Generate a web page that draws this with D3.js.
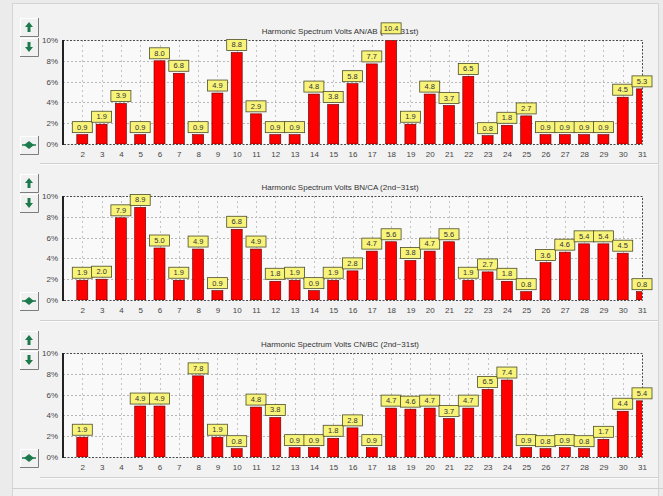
<!DOCTYPE html>
<html>
<head>
<meta charset="utf-8">
<script src="https://cdn.jsdelivr.net/npm/d3@7"></script>
<style>
  body { margin: 0; background: #ebebeb; }
  svg { display: block; }
</style>
</head>
<body>
<svg id="chart" width="663" height="496"></svg>
<script>
// Harmonic orders shown on the x axis
const orders = [2, 3, 4, 5, 6, 7, 8, 9, 10, 11, 12, 13, 14, 15, 16,
                17, 18, 19, 20, 21, 22, 23, 24, 25, 26, 27, 28, 29, 30, 31];

// Harmonic magnitude (% of fundamental) per phase; null = no bar
const anAb = [0.9, 1.9, 3.9, 0.9, 8.0, 6.8, 0.9, 4.9, 8.8, 2.9, 0.9, 0.9, 4.8, 3.8, 5.8,
              7.7, 10.4, 1.9, 4.8, 3.7, 6.5, 0.8, 1.8, 2.7, 0.9, 0.9, 0.9, 0.9, 4.5, 5.3];
const bnCa = [1.9, 2.0, 7.9, 8.9, 5.0, 1.9, 4.9, 0.9, 6.8, 4.9, 1.8, 1.9, 0.9, 1.9, 2.8,
              4.7, 5.6, 3.8, 4.7, 5.6, 1.9, 2.7, 1.8, 0.8, 3.6, 4.6, 5.4, 5.4, 4.5, 0.8];
const cnBc = [1.9, null, null, 4.9, 4.9, null, 7.8, 1.9, 0.8, 4.8, 3.8, 0.9, 0.9, 1.8, 2.8,
              0.9, 4.7, 4.6, 4.7, 3.7, 4.7, 6.5, 7.4, 0.9, 0.8, 0.9, 0.8, 1.7, 4.4, 5.4];

const panelTitles = [
  "Harmonic Spectrum Volts AN/AB  (2nd~31st)",
  "Harmonic Spectrum Volts BN/CA  (2nd~31st)",
  "Harmonic Spectrum Volts CN/BC  (2nd~31st)"
];
const yTicks = [0, 2, 4, 6, 8, 10];
const yTickLabels = ["0%", "2%", "4%", "6%", "8%", "10%"];

const seriesList = [anAb, bnCa, cnBc];
const panelTops = [40, 196, 353];   // y of the 10% line in each panel
const plotH = 104;
const plotLeft = 63, plotRight = 642;
const font = "'Liberation Sans', Arial, sans-serif";
const green = "#1d7a4c";

const svg = d3.select("#chart");

// Window frame and panel grooves
svg.append("rect").attr("x", 12.5).attr("y", 3.5).attr("width", 646).attr("height", 500)
  .attr("fill", "#f2f2f2").attr("stroke", "#d4d4d4");
[163, 320, 477].forEach(y => {
  svg.append("line").attr("x1", 40).attr("x2", 658).attr("y1", y + 0.5).attr("y2", y + 0.5)
    .attr("stroke", "#d0d0d0");
  svg.append("line").attr("x1", 40).attr("x2", 658).attr("y1", y + 1.5).attr("y2", y + 1.5)
    .attr("stroke", "#fbfbfb");
});
svg.append("line").attr("x1", 12).attr("x2", 663).attr("y1", 488.5).attr("y2", 488.5)
  .attr("stroke", "#cfcfcf");

const x = d3.scaleLinear().domain([1, 31]).range([plotLeft, plotRight]);

function button(g, bx, by, kind) {
  const b = g.append("g").attr("transform", `translate(${bx},${by})`);
  b.append("rect").attr("width", 18).attr("height", 18).attr("fill", "#f1f1f1");
  b.append("path").attr("d", "M0.5,18 V0.5 H18").attr("fill", "none").attr("stroke", "#ffffff");
  b.append("path").attr("d", "M0,18.5 H18.5 V0").attr("fill", "none").attr("stroke", "#7d7d7d");
  const cx = 9, cy = 9;
  if (kind === "lr") {
    // horizontal stem through a diamond
    b.append("line").attr("x1", cx - 7).attr("x2", cx + 7).attr("y1", cy).attr("y2", cy)
      .attr("stroke", green).attr("stroke-width", 1.5);
    b.append("path").attr("d", `M${cx - 5},${cy} L${cx},${cy - 4} L${cx + 5},${cy} L${cx},${cy + 4} Z`)
      .attr("fill", green);
    return;
  }
  const d = kind === "up"
    ? `M${cx},${cy - 5} L${cx + 4},${cy} L${cx + 1.5},${cy} L${cx + 1.5},${cy + 5} L${cx - 1.5},${cy + 5} L${cx - 1.5},${cy} L${cx - 4},${cy} Z`
    : `M${cx},${cy + 5} L${cx + 4},${cy} L${cx + 1.5},${cy} L${cx + 1.5},${cy - 5} L${cx - 1.5},${cy - 5} L${cx - 1.5},${cy} L${cx - 4},${cy} Z`;
  b.append("path").attr("d", d).attr("fill", green);
}

seriesList.forEach((values, p) => {
  const top = panelTops[p];
  const y = d3.scaleLinear().domain([0, 10]).range([top + plotH, top]);
  const g = svg.append("g");

  // Title
  g.append("text").attr("x", 340).attr("y", top - 6).attr("text-anchor", "middle")
    .attr("font-family", font).attr("font-size", 8).attr("fill", "#333")
    .text(panelTitles[p]);

  // Plot background
  g.append("rect").attr("x", plotLeft).attr("y", top).attr("width", plotRight - plotLeft)
    .attr("height", plotH).attr("fill", "#f9f9f9");

  // Grid lines
  g.selectAll(".hgrid").data(yTicks.filter(t => t > 0 && t < 10)).join("line")
    .attr("x1", plotLeft).attr("x2", plotRight)
    .attr("y1", d => Math.round(y(d)) + 0.5).attr("y2", d => Math.round(y(d)) + 0.5)
    .attr("stroke", "#b8b8b8").attr("stroke-dasharray", "2,2");
  g.selectAll(".vgrid").data(orders.filter(o => o < 31)).join("line")
    .attr("x1", d => Math.round(x(d)) + 0.5).attr("x2", d => Math.round(x(d)) + 0.5)
    .attr("y1", top).attr("y2", top + plotH)
    .attr("stroke", "#c4c4c4").attr("stroke-dasharray", "2,3");

  // Bars, clipped to the plot area
  const clipId = "clip" + p;
  svg.append("clipPath").attr("id", clipId).append("rect")
    .attr("x", plotLeft).attr("y", top).attr("width", plotRight - plotLeft).attr("height", plotH);
  const data = orders.map((o, i) => ({ order: o, value: values[i] })).filter(d => d.value != null);
  g.append("g").attr("clip-path", `url(#${clipId})`)
    .selectAll("rect").data(data).join("rect")
    .attr("x", d => x(d.order) - 5.5).attr("width", 11)
    .attr("y", d => y(d.value)).attr("height", d => y(0) - y(d.value))
    .attr("fill", "#ff0000").attr("stroke", "#5a0000").attr("stroke-width", 0.6);

  // Plot frame: solid left axis, dashed elsewhere
  g.append("path")
    .attr("d", `M${plotLeft},${top + 0.5} H${plotRight + 0.5} V${top + plotH + 0.5} H${plotLeft}`)
    .attr("fill", "none").attr("stroke", "#4a4a4a").attr("stroke-dasharray", "2,1.5");
  g.append("line").attr("x1", plotLeft).attr("x2", plotLeft).attr("y1", top).attr("y2", top + plotH + 1)
    .attr("stroke", "#222").attr("stroke-width", 2);

  // Axes (tick labels only)
  const yAxis = d3.axisLeft(y).tickValues(yTicks).tickSize(0).tickPadding(5)
    .tickFormat((d, i) => yTickLabels[i]);
  const ya = g.append("g").attr("transform", `translate(${plotLeft},0)`).call(yAxis);
  ya.select(".domain").remove();
  ya.selectAll("text").attr("font-family", font).attr("font-size", 8).attr("fill", "#444");

  const xAxis = d3.axisBottom(x).tickValues(orders).tickSize(0).tickPadding(7)
    .tickFormat(d3.format("d"));
  const xa = g.append("g").attr("transform", `translate(0,${top + plotH})`).call(xAxis);
  xa.select(".domain").remove();
  xa.selectAll("text").attr("font-family", font).attr("font-size", 8).attr("fill", "#444");

  // Value labels
  const lab = g.append("g").selectAll("g").data(data).join("g")
    .attr("transform", d => `translate(${x(d.order)},${y(d.value) - 2})`);
  lab.append("rect").attr("x", -10).attr("y", -11).attr("width", 20).attr("height", 11)
    .attr("fill", "#f8f47a").attr("stroke", "#4d4d2a").attr("stroke-width", 0.8);
  lab.append("text").attr("x", 0).attr("y", -3).attr("text-anchor", "middle")
    .attr("font-family", font).attr("font-size", 7.5).attr("fill", "#333")
    .text(d => d3.format(".1f")(d.value));

  // Scroll buttons
  button(g, 20, top - 22, "up");
  button(g, 20, top - 2, "down");
  button(g, 20, top + plotH - 8, "lr");
});
</script>
</body>
</html>
